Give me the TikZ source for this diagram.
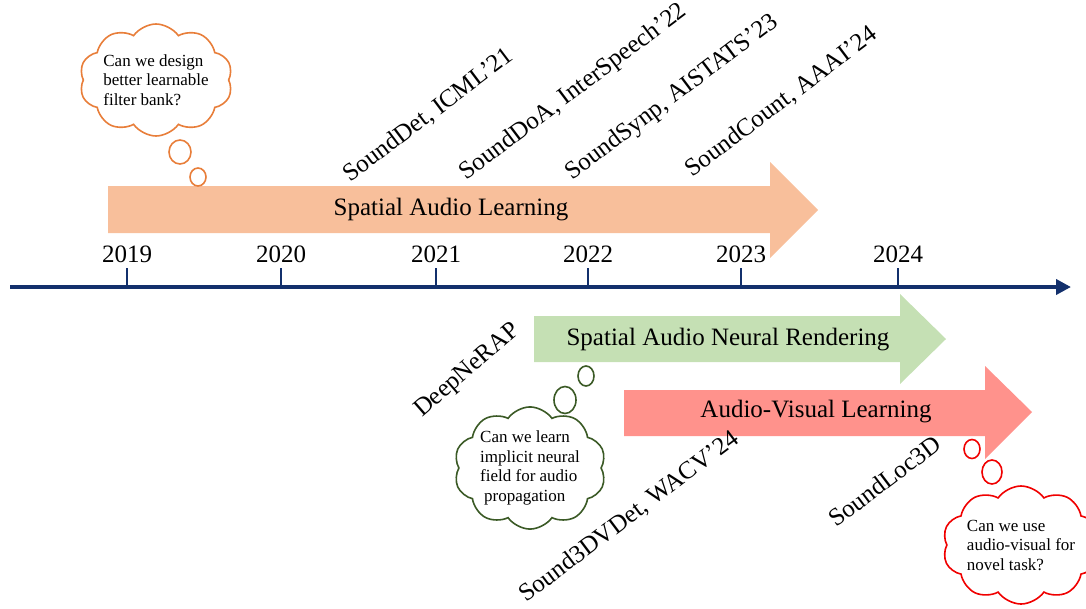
\documentclass[tikz,border=0pt]{standalone}
\usepackage{fontspec}
\setmainfont{Liberation Serif}
\usetikzlibrary{arrows.meta,shapes.symbols,shapes.geometric}
\definecolor{orfill}{HTML}{F8BF9B}
\definecolor{grfill}{HTML}{C5E0B4}
\definecolor{rdfill}{HTML}{FF928C}
\definecolor{navy}{HTML}{13306C}
\definecolor{orline}{HTML}{E87E3A}
\definecolor{grline}{HTML}{3B5A26}
\definecolor{rdline}{HTML}{F00000}
\tikzset{
  yearlbl/.style={font=\fontsize{25}{28}\selectfont, anchor=base},
  paper/.style={font=\fontsize{25}{28}\selectfont, rotate=37, anchor=base west, inner sep=0pt},
  bandtxt/.style={font=\fontsize{25}{28}\selectfont},
  tick/.style={navy, line width=2pt},
  thought/.style={cloud, cloud puffs=10, cloud puff arc=110, cloud ignores aspect, draw, line width=1.6pt, fill=white, align=left, inner sep=0pt, font=\fontsize{17}{19.5}\selectfont},
  bubble/.style={draw, line width=1.6pt, fill=white, ellipse}
}
\begin{document}
\begin{tikzpicture}[x=1pt,y=-1pt]
\useasboundingbox (0,0) rectangle (1086,608);
% bands
\fill[orfill] (108,186) -- (770,186) -- (770,162) -- (818,210) -- (770,258) -- (770,233) -- (108,233) -- cycle;
\node[bandtxt] (sal) at (451,210) {Spatial Audio Learning};
\fill[grfill] (534,316) -- (900,316) -- (900,294) -- (946,339) -- (900,384) -- (900,362) -- (534,362) -- cycle;
\node[bandtxt] (sanr) at (728,340) {Spatial Audio Neural Rendering};
\fill[rdfill] (624,390) -- (985,390) -- (985,366) -- (1032,412) -- (985,459) -- (985,436) -- (624,436) -- cycle;
\node[bandtxt] (avl) at (816,412) {Audio-Visual Learning};
% axis
\coordinate (axL) at (10,287);
\coordinate (axR) at (1071,287);
\draw[navy, line width=4pt, -{Triangle[length=15pt,width=15pt]}] (axL) -- (axR);
\foreach \x/\y in {127/2019,281/2020,436/2021,588/2022,741/2023,898/2024}{
  \coordinate (t\y) at (\x,287);
  \coordinate (u\y) at (\x,268);
  \draw[tick] (t\y) -- (u\y);
  \node[yearlbl] (y\y) at (\x,262) {\y};
}
% papers
\node[paper] (p1) at (350,183) {SoundDet, ICML’21};
\node[paper] (p2) at (466,181) {SoundDoA, InterSpeech’22};
\node[paper] (p3) at (572,181) {SoundSynp, AISTATS’23};
\node[paper] (p4) at (692,178) {SoundCount, AAAI’24};
\node[paper, rotate=4] (p5) at (422,418) {DeepNeRAP};
\node[paper] (p6) at (526,603) {Sound3DVDet, WACV’24};
\node[paper] (p7) at (836,528) {SoundLoc3D};
% thoughts
\node[thought, draw=orline, minimum width=150pt, minimum height=112pt] (c1) at (156,80) {Can we design\\better learnable\\filter bank?};
\node[bubble, draw=orline, minimum width=22pt, minimum height=24pt] (b1a) at (180,152) {};
\node[bubble, draw=orline, minimum width=16pt, minimum height=18pt] (b1b) at (198,177) {};
\node[thought, draw=grline, minimum width=152pt, minimum height=118pt] (c2) at (530,468) {Can we learn\\implicit neural\\field for audio\\\hspace*{4pt}propagation};
\node[bubble, draw=grline, minimum width=22pt, minimum height=27pt] (b2a) at (565,400) {};
\node[bubble, draw=grline, minimum width=16pt, minimum height=20pt] (b2b) at (586,376) {};
\node[thought, draw=rdline, minimum width=132pt, minimum height=118pt] (c3) at (1021,545) {Can we use\\audio-visual for\\novel task?};
\node[bubble, draw=rdline, minimum width=16pt, minimum height=19pt] (b3a) at (972,449) {};
\node[bubble, draw=rdline, minimum width=20pt, minimum height=24pt] (b3b) at (992,472) {};
\end{tikzpicture}
\end{document}
